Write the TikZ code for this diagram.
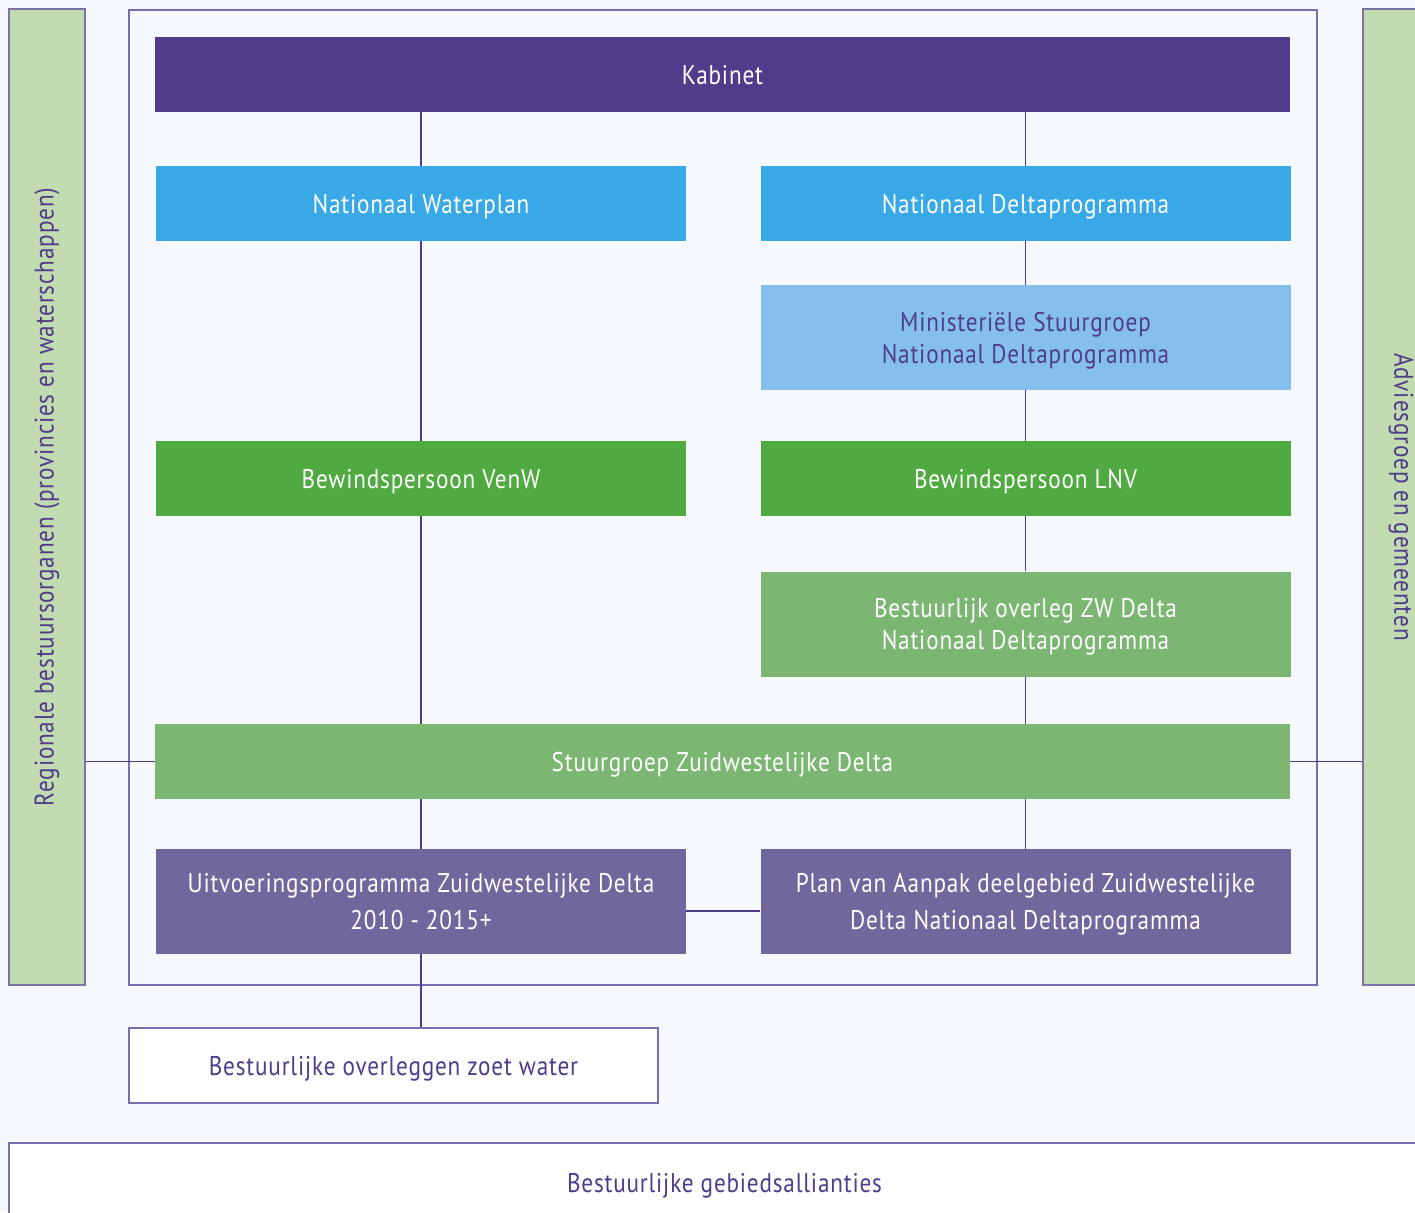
\documentclass[tikz,border=0pt]{standalone}
\usepackage{fontspec}
\setmainfont{PT Sans}[FakeStretch=0.86, LetterSpace=3]
\usetikzlibrary{positioning}
\definecolor{achtergrond}{HTML}{F5F8FC}
\definecolor{paars}{HTML}{4F3C8A}
\definecolor{lijnpaars}{HTML}{7A6FAE}
\definecolor{grijspaars}{HTML}{72679C}
\definecolor{blauw}{HTML}{38A8E6}
\definecolor{lichtblauw}{HTML}{85C0EC}
\definecolor{groen}{HTML}{50AA41}
\definecolor{zachtgroen}{HTML}{7CB673}
\definecolor{balkgroen}{HTML}{C2DBB1}
\tikzset{
  blok/.style={rectangle, inner sep=0pt, align=center, text=white,
    minimum width=265pt, minimum height=37.5pt, text depth=0pt,
    font=\fontsize{13.5}{16}\selectfont},
  hoog/.style={minimum height=52.5pt},
  breed/.style={minimum width=567.5pt},
  wit/.style={blok, fill=white, draw=lijnpaars, line width=0.75pt, text=paars},
  balk/.style={rectangle, inner sep=0pt, fill=balkgroen, draw=lijnpaars!80!gray,
    line width=0.75pt, minimum height=488pt, text=paars,
    font=\fontsize{13.5}{16}\selectfont},
  lijn/.style={draw=paars, line width=0.75pt}
}
\begin{document}
\begin{tikzpicture}[x=0.5pt, y=-0.5pt]
  \clip (0,0) rectangle (1415,1212);
  \fill[achtergrond] (0,0) rectangle (1415,1212);
  % kader
  \draw[lijnpaars, line width=0.75pt] (129,10) rectangle (1317,985);

  % zijbalken
  \node (links) at (47,497) [balk, minimum width=38pt] {};
  \node[rotate=90, text=paars, font=\fontsize{13.5}{16}\selectfont] at (links) {Regionale bestuursorganen (provincies en waterschappen)};
  \node (rechts) at (1401,497) [balk, minimum width=38pt] {};
  \node[rotate=-90, text=paars, font=\fontsize{13.5}{16}\selectfont] at (rechts) {Adviesgroep en gemeenten};

  % blokken
  \node (kabinet) at (722.5,74.5) [blok, breed, fill=paars] {Kabinet};
  \node (waterplan) at (421,203.5) [blok, fill=blauw] {Nationaal Waterplan};
  \node (deltaprog) at (1025.5,203.5) [blok, fill=blauw] {Nationaal Deltaprogramma};
  \node (ministerieel) at (1025.5,337.5) [blok, hoog, fill=lichtblauw, text=paars] {Ministeriële Stuurgroep\\Nationaal Deltaprogramma};
  \node (venw) at (421,478.5) [blok, fill=groen] {Bewindspersoon VenW};
  \node (lnv) at (1025.5,478.5) [blok, fill=groen] {Bewindspersoon LNV};
  \node (zwoverleg) at (1025.5,624) [blok, hoog, fill=zachtgroen] {Bestuurlijk overleg ZW Delta\\Nationaal Deltaprogramma};
  \node (stuurgroep) at (722.5,761.5) [blok, breed, fill=zachtgroen] {Stuurgroep Zuidwestelijke Delta};
  \node (uitvoering) at (421,901.5) [blok, hoog, fill=grijspaars, font=\fontsize{13.5}{18.5}\selectfont] {Uitvoeringsprogramma Zuidwestelijke Delta\\2010 - 2015+};
  \node (aanpak) at (1025.5,901.5) [blok, hoog, fill=grijspaars, font=\fontsize{13.5}{18.5}\selectfont] {Plan van Aanpak deelgebied Zuidwestelijke\\Delta Nationaal Deltaprogramma};
  \node (zoetwater) at (393.5,1065.5) [wit, minimum width=264.5pt] {Bestuurlijke overleggen zoet water};
  \node (allianties) at (724.5,1200) [wit, minimum width=715.5pt, minimum height=57pt, text depth=17pt] {Bestuurlijke gebiedsallianties};

  % verbindingen
  \draw[lijn] (kabinet.south -| waterplan) -- (waterplan.north);
  \draw[lijn] (waterplan) -- (venw);
  \draw[lijn] (venw) -- (venw |- stuurgroep.north);
  \draw[lijn] (uitvoering |- stuurgroep.south) -- (uitvoering.north);
  \draw[lijn] (uitvoering.south) -- (zoetwater.north -| uitvoering);
  \draw[lijn] (kabinet.south -| deltaprog) -- (deltaprog.north);
  \draw[lijn] (deltaprog) -- (ministerieel);
  \draw[lijn] (ministerieel) -- (lnv);
  \draw[lijn] (lnv) -- (zwoverleg);
  \draw[lijn] (zwoverleg.south) -- (zwoverleg.south |- stuurgroep.north);
  \draw[lijn] (aanpak |- stuurgroep.south) -- (aanpak.north);
  \draw[lijn] ([yshift=-4.75pt]uitvoering.east) -- ([yshift=-4.75pt]aanpak.west);
  \draw[lijn] (links.east |- stuurgroep) -- (stuurgroep.west);
  \draw[lijn] (stuurgroep.east) -- (stuurgroep -| rechts.west);
\end{tikzpicture}
\end{document}
